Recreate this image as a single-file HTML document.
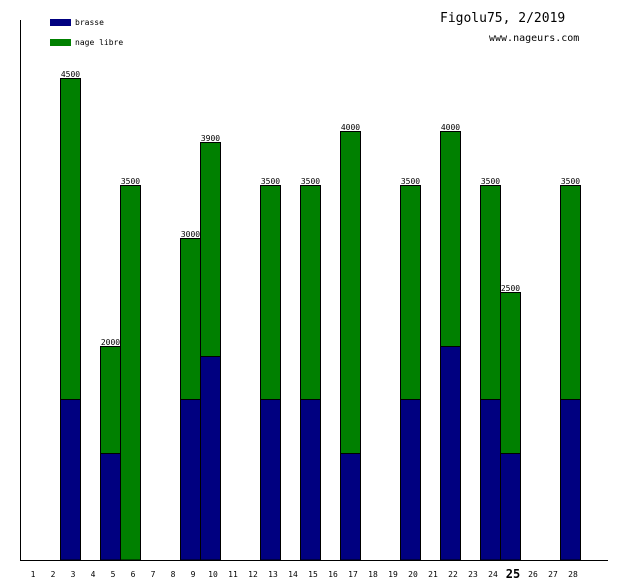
<!DOCTYPE html>
<html><head><meta charset="utf-8"><style>
html,body{margin:0;padding:0;background:#fff}
svg text{font-family:"DejaVu Sans Mono","Liberation Mono",monospace}
</style></head><body>
<svg width="620" height="580" xmlns="http://www.w3.org/2000/svg">
<rect width="620" height="580" fill="#fff"/>
<rect x="50" y="19" width="21" height="7" fill="#000080"/>
<text x="75" y="25" font-size="8">brasse</text>
<rect x="50" y="39" width="21" height="7" fill="#008000"/>
<text x="75" y="45" font-size="8">nage libre</text>
<text x="440" y="22" font-size="13">Figolu75, 2/2019</text>
<text x="489" y="41" font-size="10">www.nageurs.com</text>
<g id="bars" stroke="#000" stroke-width="1"></g>
<g id="lab" font-size="8" text-anchor="middle"></g>
<line x1="20.5" y1="20" x2="20.5" y2="560" stroke="#000"/>
<line x1="20" y1="560.5" x2="608" y2="560.5" stroke="#000"/>
<g id="days" font-size="8" text-anchor="middle"></g>
</svg>
<script>
var d={3:[1500,4500],5:[1000,2000],6:[0,3500],9:[1500,3000],10:[1900,3900],13:[1500,3500],15:[1500,3500],17:[1000,4000],20:[1500,3500],22:[2000,4000],24:[1500,3500],25:[1000,2500],28:[1500,3500]};
var s=0.1072,B=560,ns="http://www.w3.org/2000/svg";
function el(p,t,a,txt){var e=document.createElementNS(ns,t);for(var k in a)e.setAttribute(k,a[k]);if(txt)e.textContent=txt;document.getElementById(p).appendChild(e);}
for(var n in d){var x=20*n+0.5,b=d[n][0],t=d[n][1];
var yt=Math.round(B-t*s)+0.5,yb=Math.round(B-b*s)+0.5;
el("bars","rect",{x:x,y:yt,width:20,height:B-yt,fill:"#008000"});
if(b>0)el("bars","rect",{x:x,y:yb,width:20,height:B-yb,fill:"#000080"});
el("lab","text",{x:20*n+10.5,y:yt-1.5},String(t));}
for(var i=1;i<=28;i++){if(i==25)el("days","text",{x:20*i+13,y:578,"font-size":12,"font-weight":"bold"},"25");else el("days","text",{x:20*i+13,y:577},String(i));}
</script>
</body></html>
